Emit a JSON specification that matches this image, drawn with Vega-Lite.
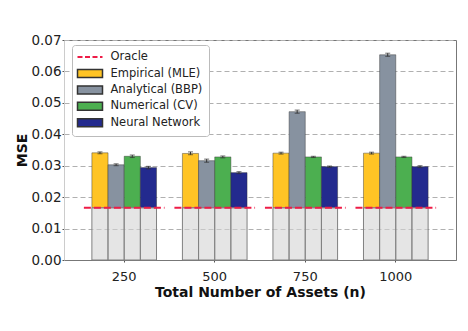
{
  "$schema": "https://vega.github.io/schema/vega-lite/v6.json",
  "autosize": {"type": "none"},
  "width": 392,
  "height": 220,
  "padding": {"left": 64, "top": 40, "right": 12, "bottom": 71},
  "background": "white",
  "config": {
    "font": "DejaVu Sans",
    "view": {"stroke": "#777777", "strokeWidth": 1},
    "axis": {"labelFont": "DejaVu Sans", "titleFont": "DejaVu Sans", "labelFontSize": 13.5, "labelColor": "#222222", "titleFontSize": 14, "titleFontWeight": "bold", "titleColor": "#111111", "tickColor": "#555555", "tickSize": 2},
    "axisY": {"tickCount": 8, "format": ".2f", "grid": true, "gridColor": "#b0b0b0", "gridDash": [5, 3], "gridWidth": 1, "domainColor": "#cccccc", "titlePadding": 1, "labelPadding": 1, "labelOverlap": false}
  },
  "data": {"values": [
    {"n": 250, "method": "Empirical (MLE)", "mse": 0.0341, "lo": 0.0338, "hi": 0.0344, "oracle": 0.0166},
    {"n": 250, "method": "Analytical (BBP)", "mse": 0.0303, "lo": 0.0300, "hi": 0.0306, "oracle": 0.0166},
    {"n": 250, "method": "Numerical (CV)", "mse": 0.0330, "lo": 0.0326, "hi": 0.0334, "oracle": 0.0166},
    {"n": 250, "method": "Neural Network", "mse": 0.0294, "lo": 0.0290, "hi": 0.0298, "oracle": 0.0166},
    {"n": 500, "method": "Empirical (MLE)", "mse": 0.0339, "lo": 0.0335, "hi": 0.0344, "oracle": 0.0166},
    {"n": 500, "method": "Analytical (BBP)", "mse": 0.0316, "lo": 0.0311, "hi": 0.0321, "oracle": 0.0166},
    {"n": 500, "method": "Numerical (CV)", "mse": 0.0328, "lo": 0.0325, "hi": 0.0331, "oracle": 0.0166},
    {"n": 500, "method": "Neural Network", "mse": 0.0278, "lo": 0.0275, "hi": 0.0281, "oracle": 0.0166},
    {"n": 750, "method": "Empirical (MLE)", "mse": 0.0340, "lo": 0.0337, "hi": 0.0343, "oracle": 0.0166},
    {"n": 750, "method": "Analytical (BBP)", "mse": 0.0472, "lo": 0.0467, "hi": 0.0477, "oracle": 0.0166},
    {"n": 750, "method": "Numerical (CV)", "mse": 0.0328, "lo": 0.0326, "hi": 0.0330, "oracle": 0.0166},
    {"n": 750, "method": "Neural Network", "mse": 0.0297, "lo": 0.0295, "hi": 0.0299, "oracle": 0.0166},
    {"n": 1000, "method": "Empirical (MLE)", "mse": 0.0340, "lo": 0.0337, "hi": 0.0343, "oracle": 0.0166},
    {"n": 1000, "method": "Analytical (BBP)", "mse": 0.0653, "lo": 0.0648, "hi": 0.0658, "oracle": 0.0166},
    {"n": 1000, "method": "Numerical (CV)", "mse": 0.0328, "lo": 0.0326, "hi": 0.0330, "oracle": 0.0166},
    {"n": 1000, "method": "Neural Network", "mse": 0.0297, "lo": 0.0294, "hi": 0.0300, "oracle": 0.0166}
  ]},
  "encoding": {
    "x": {"field": "n", "type": "nominal", "scale": {"domain": [250, 500, 750, 1000], "paddingInner": 0.286, "paddingOuter": 0.308},
      "axis": {"title": "Total Number of Assets (n)", "labelAngle": 0, "labelFontSize": 13, "domainColor": "#777777", "labelPadding": 8, "titlePadding": 2}}
  },
  "layer": [
    {
      "mark": {"type": "bar", "strokeWidth": 0.8, "stroke": "#333333", "strokeOpacity": 0.55},
      "encoding": {
        "xOffset": {"field": "method", "type": "nominal", "scale": {"domain": ["Empirical (MLE)", "Analytical (BBP)", "Numerical (CV)", "Neural Network"], "paddingInner": 0, "paddingOuter": 0}},
        "y": {"field": "mse", "type": "quantitative", "scale": {"domain": [0, 0.07], "nice": false},
          "axis": {"title": "MSE", "values": [0, 0.01, 0.02, 0.03, 0.04, 0.05, 0.06, 0.07]}},
        "y2": {"field": "oracle"},
        "color": {"field": "method", "type": "nominal",
          "scale": {"domain": ["Empirical (MLE)", "Analytical (BBP)", "Numerical (CV)", "Neural Network"], "range": ["#ffc425", "#8792a0", "#4caf50", "#232a8e"]},
          "legend": {"title": " ", "titleFontSize": 11.5, "titlePadding": 5, "orient": "none", "legendX": 8, "legendY": 5, "padding": 6, "fillColor": "white", "strokeColor": "#bbbbbb", "cornerRadius": 3,
            "labelFont": "DejaVu Sans", "labelFontSize": 11.5, "labelColor": "#222222", "symbolSize": 100, "symbolType": "M-2.5,-0.8H2.5V0.8H-2.5Z", "symbolOffset": 6, "labelOffset": 14.5, "rowPadding": 2.4}
        }
      }
    },
    {
      "mark": {"type": "bar", "fill": "#d3d3d3", "fillOpacity": 0.6, "stroke": "#808080", "strokeWidth": 1},
      "encoding": {
        "xOffset": {"field": "method", "type": "nominal"},
        "y": {"field": "oracle", "type": "quantitative", "axis": {"title": "MSE", "values": [0, 0.01, 0.02, 0.03, 0.04, 0.05, 0.06, 0.07]}}
      }
    },
    {
      "mark": {"type": "rule", "color": "#333333", "strokeWidth": 1},
      "encoding": {
        "xOffset": {"field": "method", "type": "nominal"},
        "y": {"field": "lo", "type": "quantitative", "axis": {"title": "MSE", "values": [0, 0.01, 0.02, 0.03, 0.04, 0.05, 0.06, 0.07]}},
        "y2": {"field": "hi"}
      }
    },
    {
      "mark": {"type": "tick", "color": "#333333", "thickness": 1, "size": 5},
      "encoding": {
        "xOffset": {"field": "method", "type": "nominal"},
        "y": {"field": "lo", "type": "quantitative", "axis": {"title": "MSE", "values": [0, 0.01, 0.02, 0.03, 0.04, 0.05, 0.06, 0.07]}}
      }
    },
    {
      "mark": {"type": "tick", "color": "#333333", "thickness": 1, "size": 5},
      "encoding": {
        "xOffset": {"field": "method", "type": "nominal"},
        "y": {"field": "hi", "type": "quantitative", "axis": {"title": "MSE", "values": [0, 0.01, 0.02, 0.03, 0.04, 0.05, 0.06, 0.07]}}
      }
    },
    {
      "transform": [{"aggregate": [{"op": "mean", "field": "oracle", "as": "oracle"}], "groupby": ["n"]}],
      "mark": {"type": "rule", "strokeWidth": 2, "strokeDash": [7, 3], "xOffset": -8, "x2Offset": 8},
      "encoding": {
        "x": {"field": "n", "type": "nominal", "bandPosition": 0},
        "x2": {"field": "n", "bandPosition": 1},
        "y": {"field": "oracle", "type": "quantitative", "axis": {"title": "MSE", "values": [0, 0.01, 0.02, 0.03, 0.04, 0.05, 0.06, 0.07]}},
        "stroke": {"datum": "Oracle", "type": "nominal", "scale": {"domain": ["Oracle"], "range": ["#ee1c47"]},
          "legend": {"title": null, "orient": "none", "legendX": 8, "legendY": 5, "padding": 6, "fillColor": null, "strokeColor": null,
            "labelFont": "DejaVu Sans", "labelFontSize": 11.5, "labelColor": "#222222", "symbolSize": 100, "symbolType": "M-2.5,0H2.5", "symbolStrokeWidth": 2, "symbolDash": [5, 2.5], "symbolOffset": 6, "labelOffset": 14.5}}
      }
    }
  ]
}
